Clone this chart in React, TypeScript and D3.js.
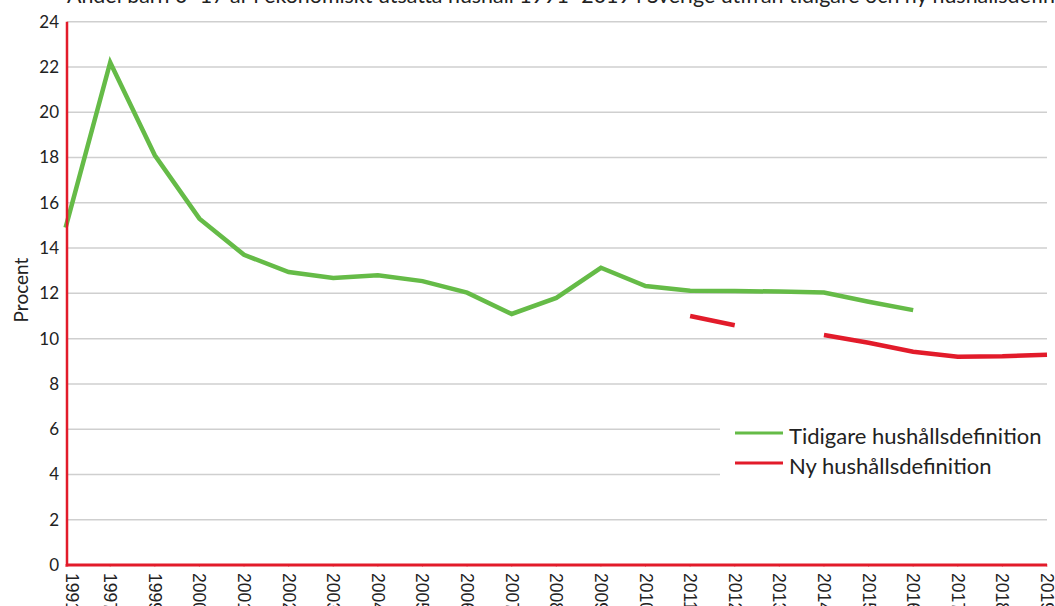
import React from "react";
import * as d3 from "d3";

const years = ["1991","1997","1999","2000","2001","2002","2003","2004","2005","2006","2007","2008","2009","2010","2011","2012","2013","2014","2015","2016","2017","2018","2019"];
const tidigare: (number | null)[] = [14.9,22.2,18.1,15.3,13.7,12.94,12.68,12.8,12.54,12.03,11.09,11.8,13.13,12.32,12.12,12.1,12.08,12.04,11.63,11.26,null,null,null];
const ny: (number | null)[] = [null,null,null,null,null,null,null,null,null,null,null,null,null,null,11.0,10.59,null,10.16,9.82,9.42,9.2,9.22,9.29];
const yTicks = [0,2,4,6,8,10,12,14,16,18,20,22,24];
const title = "Andel barn 0–17 år i ekonomiskt utsatta hushåll 1991–2019 i Sverige utifrån tidigare och ny hushållsdefinition";
const seriesNames = ["Tidigare hushållsdefinition", "Ny hushållsdefinition"];

const GREEN = "#65bb47";
const RED = "#e21b2a";
const FONT = "Lato, 'Open Sans', sans-serif";

export default function App() {
  const W = 1055, H = 606;
  const left = 67, right = 1047, top = 21.7, bottom = 565;
  const x = d3.scalePoint<string>().domain(years).range([65.6, right]);
  const y = d3.scaleLinear().domain([0, 24]).range([bottom, top]);
  const line = d3.line<number | null>()
    .defined(d => d != null)
    .x((_, i) => x(years[i]) as number)
    .y(d => y(d as number));

  return (
    <svg width={W} height={H} style={{ position: "absolute", left: 0, top: 0, background: "#fff" }}>
      <text x={67} y={3} fontFamily={FONT} fontSize={21.4} fill="#222">{title}</text>
      {yTicks.filter(t => t > 0).map(t => (
        <line key={t} x1={left} x2={right} y1={y(t)} y2={y(t)} stroke="#cfcfcf" strokeWidth={1.5} />
      ))}
      {years.map(yr => (
        <line key={"t" + yr} x1={x(yr)} x2={x(yr)} y1={bottom - 1} y2={bottom + 2} stroke="#f3a0a5" strokeWidth={1} />
      ))}
      {yTicks.map(t => (
        <text key={"l" + t} x={59} y={y(t)} dy="0.35em" textAnchor="end" fontFamily={FONT} fontSize={17} fill="#222">{t}</text>
      ))}
      <text transform={`translate(28,290) rotate(-90)`} textAnchor="middle" fontFamily={FONT} fontSize={19} fill="#222">Procent</text>
      {years.map((yr, i) => (
        <text key={"x" + yr} transform={`translate(${(x(yr) as number) + (i === 0 ? 6 : 0)},573) rotate(90)`} dominantBaseline="central" fontFamily="'Liberation Sans', Arial, sans-serif" fontSize={17.5} fill="#222">{yr}</text>
      ))}
      <path d={line(tidigare) || ""} fill="none" stroke={GREEN} strokeWidth={4.5} strokeLinejoin="miter" />
      <path d={line(ny) || ""} fill="none" stroke={RED} strokeWidth={4.5} strokeLinejoin="miter" />
      <line x1={left} x2={left} y1={top} y2={bottom + 1.5} stroke={RED} strokeWidth={2.5} />
      <line x1={left - 1} x2={right} y1={bottom} y2={bottom} stroke={RED} strokeWidth={3} />
      <rect x={720} y={398} width={335} height={94} fill="#fff" />
      <line x1={735} x2={783} y1={433} y2={433} stroke={GREEN} strokeWidth={3} />
      <text x={789} y={444} fontFamily={FONT} fontSize={22} fill="#222">{seriesNames[0]}</text>
      <line x1={735} x2={783} y1={463} y2={463} stroke={RED} strokeWidth={3} />
      <text x={789} y={474} fontFamily={FONT} fontSize={22} fill="#222">{seriesNames[1]}</text>
    </svg>
  );
}
